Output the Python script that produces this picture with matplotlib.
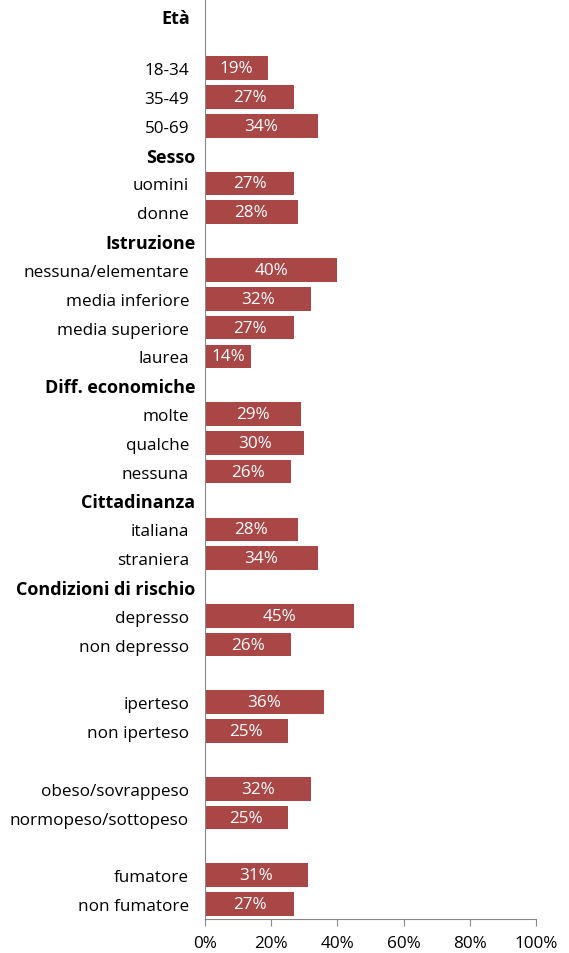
import matplotlib.pyplot as plt
import numpy as np

# righe del grafico, dall'alto verso il basso ("" = riga vuota)
labels = ["Età", "", "18-34", "35-49", "50-69",
          "Sesso", "uomini", "donne",
          "Istruzione", "nessuna/elementare", "media inferiore", "media superiore", "laurea",
          "Diff. economiche", "molte", "qualche", "nessuna",
          "Cittadinanza", "italiana", "straniera",
          "Condizioni di rischio", "depresso", "non depresso", "",
          "iperteso", "non iperteso", "",
          "obeso/sovrappeso", "normopeso/sottopeso", "",
          "fumatore", "non fumatore"]
values = [None, None, 19, 27, 34,
          None, 27, 28,
          None, 40, 32, 27, 14,
          None, 29, 30, 26,
          None, 28, 34,
          None, 45, 26, None,
          36, 25, None,
          32, 25, None,
          31, 27]
headers = ["Età", "Sesso", "Istruzione", "Diff. economiche", "Cittadinanza",
           "Condizioni di rischio"]

plt.rcParams['font.family'] = ['Open Sans', 'DejaVu Sans']

fig = plt.figure(figsize=(5.69, 9.54), dpi=100)
ax = fig.add_axes([205/569, 1 - 919.5/954, 331/569, 922.5/954])

bar_color = "#A94646"
pos = np.arange(len(labels))
for i, v in enumerate(values):
    if v is None:
        continue
    ax.barh(i, v, height=0.82, color=bar_color)
    ax.text(v / 2, i, "{}%".format(v), color="white", ha="center", va="center",
            fontsize=12.3)

ax.set_ylim(len(labels) - 0.5, -0.5)
ax.set_xlim(0, 100)
ax.set_yticks(pos)
# "Età" viene disegnata a parte, un po' più in basso come nell'originale
ax.set_yticklabels(["" if lab == "Età" else lab for lab in labels], fontsize=12.3)
ax.tick_params(axis="y", length=0, pad=11.5)
for tick, lab in zip(ax.yaxis.get_major_ticks(), labels):
    if lab in headers:
        tick.label1.set_fontweight("bold")
        tick.label1.set_fontsize(13)
        tick.set_pad(7)
ax.annotate("Età", xy=(0, 0.25), xycoords=ax.get_yaxis_transform(),
            xytext=(-11, 0), textcoords="offset points", ha="right", va="center",
            fontsize=13, fontweight="bold")

ax.set_xticks(np.arange(0, 101, 20))
ax.set_xticklabels(["{}%".format(x) for x in range(0, 101, 20)], fontsize=12.3)
ax.tick_params(axis="x", direction="out", length=5, color="#888888", pad=7)

for s in ["top", "right"]:
    ax.spines[s].set_visible(False)
ax.spines["left"].set_color("#888888")
ax.spines["bottom"].set_color("#888888")

fig.savefig("out.png", dpi=100)
